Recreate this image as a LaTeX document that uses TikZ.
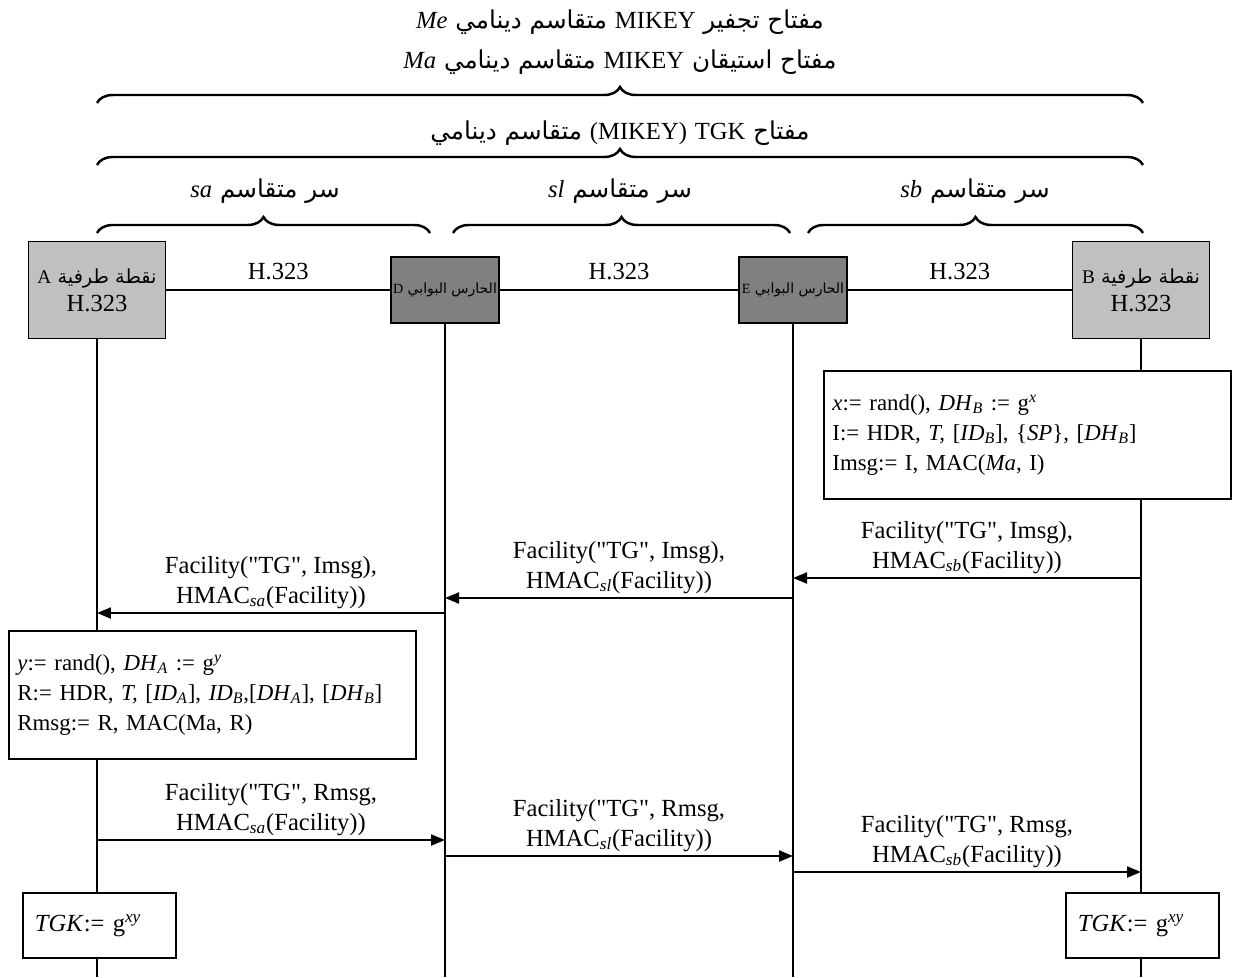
\documentclass[tikz,border=0pt]{standalone}
\usepackage{fontspec}
\setmainfont{Liberation Serif}[Ligatures=TeXOff]
\newfontfamily\arabicfont[Script=Arabic]{DejaVu Sans}
\TeXXeTstate=1
\usetikzlibrary{arrows.meta,decorations.pathreplacing}

\definecolor{endgray}{RGB}{192,192,192}
\definecolor{gkgray}{RGB}{128,128,128}

\newcommand{\subit}[1]{\textsubscript{\textit{#1}}}
\newcommand{\supit}[1]{\textsuperscript{\textit{#1}}}
\newcommand{\lat}[1]{\beginL{\normalfont #1}\endL}

\tikzset{
  endpoint/.style={draw, line width=1.1pt, fill=endgray, minimum width=2.74cm,
    minimum height=1.94cm, align=center, font=\fontsize{14}{16}\selectfont},
  gatekeeper/.style={draw, line width=1.1pt, fill=gkgray, minimum width=2.16cm,
    minimum height=1.32cm, inner sep=1pt, font=\fontsize{8}{9}\selectfont},
  lifeline/.style={line width=1.6pt},
  link/.style={line width=1.4pt},
  msg/.style={line width=1.2pt, -{Triangle[length=0.28cm,width=0.22cm]}},
  msglbl/.style={align=center, font=\fontsize{14}{17}\selectfont, above=1pt, inner sep=1pt},
  calcbox/.style={draw, line width=1.1pt, fill=white, anchor=north west, align=left,
    text width=7.8cm, inner xsep=0.17cm, minimum height=2.56cm,
    font=\fontsize{13}{17}\selectfont},
  keybox/.style={draw, line width=1.1pt, fill=white, anchor=north west, align=left,
    text width=2.58cm, inner xsep=0.24cm, minimum height=1.3cm,
    font=\fontsize{14}{17}\selectfont},
  keybrace/.style={decorate, decoration={brace, amplitude=0.32cm}, line width=1.4pt},
  keytitle/.style={font=\fontsize{14}{17}\selectfont}
}

\begin{document}
\begin{tikzpicture}[x=0.02cm, y=-0.02cm]
  \useasboundingbox (0,0) rectangle (1237,977);

  % key titles and braces
  \node[keytitle] (me) at (620,22)
    {\arabicfont\beginR مفتاح تجفير \lat{MIKEY} متقاسم دينامي \lat{\textit{Me}}\endR};
  \node[keytitle] (ma) at (620,62)
    {\arabicfont\beginR مفتاح استيقان \lat{MIKEY} متقاسم دينامي \lat{\textit{Ma}}\endR};
  \draw[keybrace] (97,103) -- (1143,103);
  \node[keytitle] (tgk) at (620,133)
    {\arabicfont\beginR مفتاح \lat{TGK} \lat{(MIKEY)} متقاسم دينامي\endR};
  \draw[keybrace] (97,165) -- (1143,165);

  % shared secrets per hop
  \node[keytitle] (sa) at (265,191) {\arabicfont\beginR سر متقاسم \lat{\textit{sa}}\endR};
  \node[keytitle] (sl) at (620,191) {\arabicfont\beginR سر متقاسم \lat{\textit{sl}}\endR};
  \node[keytitle] (sb) at (975,191) {\arabicfont\beginR سر متقاسم \lat{\textit{sb}}\endR};
  \draw[keybrace] (97,233) -- (430,233);
  \draw[keybrace] (453,233) -- (790,233);
  \draw[keybrace] (808,233) -- (1143,233);

  % lifelines
  \coordinate (Abot) at (97,977);
  \coordinate (Dbot) at (445,977);
  \coordinate (Ebot) at (793,977);
  \coordinate (Bbot) at (1141,977);

  % entities
  \node[endpoint] (A) at (97,290)
    {{\fontsize{11}{13}\selectfont\arabicfont\beginR نقطة طرفية \lat{A}\endR}\\H.323};
  \node[gatekeeper] (D) at (445,290) {\arabicfont\beginR الحارس البوابي \lat{D}\endR};
  \node[gatekeeper] (E) at (793,290) {\arabicfont\beginR الحارس البوابي \lat{E}\endR};
  \node[endpoint] (B) at (1141,290)
    {{\fontsize{11}{13}\selectfont\arabicfont\beginR نقطة طرفية \lat{B}\endR}\\H.323};

  \draw[lifeline] (A.south) -- (Abot);
  \draw[lifeline] (D.south) -- (Dbot);
  \draw[lifeline] (E.south) -- (Ebot);
  \draw[lifeline] (B.south) -- (Bbot);

  \draw[link] (A.east) -- node[keytitle, above=2pt] (h1) {H.323} (D.west);
  \draw[link] (D.east) -- node[keytitle, above=2pt] (h2) {H.323} (E.west);
  \draw[link] (E.east) -- node[keytitle, above=2pt] (h3) {H.323} (B.west);

  % B builds the I message
  \node[calcbox] (xbox) at (823,370)
    {\textit{x}:= rand(), \textit{DH}\subit{B} := g\supit{x}\\
     I:= HDR, \textit{T,} [\textit{ID}\subit{B}], \{\textit{SP}\}, [\textit{DH}\subit{B}]\\
     Imsg:= I, MAC(\textit{Ma}, I)};

  \coordinate (B1) at (1141,578);
  \coordinate (E1) at (793,578);
  \coordinate (E2) at (793,598);
  \coordinate (D2) at (445,598);
  \coordinate (D3) at (445,613);
  \coordinate (A3) at (97,613);
  \draw[msg] (B1) -- node[msglbl] (m1) {Facility("TG", Imsg),\\HMAC\subit{sb}(Facility))} (E1);
  \draw[msg] (E2) -- node[msglbl] (m2) {Facility("TG", Imsg),\\HMAC\subit{sl}(Facility))} (D2);
  \draw[msg] (D3) -- node[msglbl] (m3) {Facility("TG", Imsg),\\HMAC\subit{sa}(Facility))} (A3);

  % A answers with R
  \node[calcbox] (ybox) at (8,630)
    {\textit{y}:= rand(), \textit{DH}\subit{A} := g\supit{y}\\
     R:= HDR, \textit{T,} [\textit{ID}\subit{A}], \textit{ID}\subit{B},[\textit{DH}\subit{A}], [\textit{DH}\subit{B}]\\
     Rmsg:= R, MAC(Ma, R)};

  \coordinate (A4) at (97,840);
  \coordinate (D4) at (445,840);
  \coordinate (D5) at (445,856);
  \coordinate (E5) at (793,856);
  \coordinate (E6) at (793,872);
  \coordinate (B6) at (1141,872);
  \draw[msg] (A4) -- node[msglbl] (m4) {Facility("TG", Rmsg,\\HMAC\subit{sa}(Facility))} (D4);
  \draw[msg] (D5) -- node[msglbl] (m5) {Facility("TG", Rmsg,\\HMAC\subit{sl}(Facility))} (E5);
  \draw[msg] (E6) -- node[msglbl] (m6) {Facility("TG", Rmsg,\\HMAC\subit{sb}(Facility))} (B6);

  % resulting key on both sides
  \node[keybox] (tgkA) at (22,892) {\textit{TGK}:= g\supit{xy}};
  \node[keybox] (tgkB) at (1065,892) {\textit{TGK}:= g\supit{xy}};

\end{tikzpicture}
\end{document}
